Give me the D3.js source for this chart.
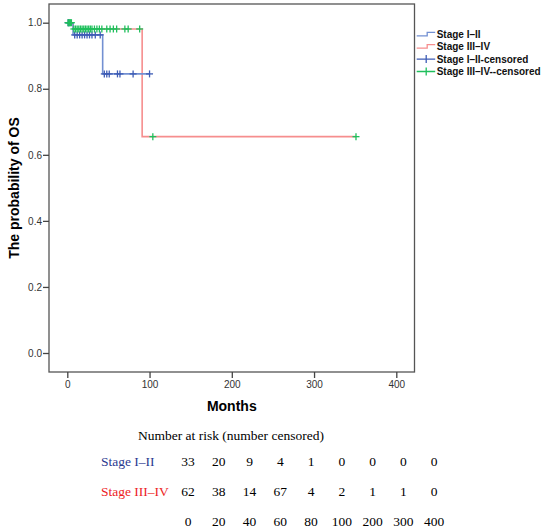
<!DOCTYPE html>
<html lang="en">
<head>
<meta charset="UTF-8">
<title>Overall survival by stage</title>
<script src="https://cdn.jsdelivr.net/npm/d3@7/dist/d3.min.js"></script>
<style>
  body { margin: 0; background: #fff; }
  svg text { font-family: "Liberation Sans", Arial, sans-serif; }
</style>
</head>
<body>
<div id="chart"></div>
<script>
// step curves: [month, survival]
const stage12Steps = [[0, 1.0], [7, 0.963], [43, 0.845], [100, 0.845]];
const stage34Steps = [[0, 1.0], [7, 0.981], [91, 0.655], [351, 0.655]];

// censored observations: [month, survival]
const stage12Censored = [
  [1, 1.0], [2, 1.0],
  [9, 0.963], [12, 0.963], [15, 0.963], [18, 0.963], [21, 0.963],
  [24, 0.963], [27, 0.963], [30, 0.963], [34, 0.963], [40, 0.963],
  [45, 0.845], [48, 0.845], [51, 0.845], [61, 0.845], [64, 0.845], [80, 0.845], [100, 0.845]
];
const stage34Censored = [
  [1, 1.0], [2, 1.0], [3, 1.0], [4, 1.0], [5, 1.0],
  [8, 0.981], [10, 0.981], [12, 0.981], [14, 0.981], [16, 0.981], [18, 0.981],
  [20, 0.981], [22, 0.981], [24, 0.981], [26, 0.981], [28, 0.981], [30, 0.981],
  [33, 0.981], [36, 0.981], [39, 0.981], [42, 0.981], [48, 0.981], [52, 0.981],
  [56, 0.981], [60, 0.981], [70, 0.981], [74, 0.981], [88, 0.981],
  [104, 0.655], [351, 0.655]
];

const xTicks = [0, 100, 200, 300, 400];
const yTicks = [0, 0.2, 0.4, 0.6, 0.8, 1.0];

const legendLabels = ["Stage I\u2013II", "Stage III\u2013IV", "Stage I\u2013II-censored", "Stage III\u2013IV--censored"];

// number at risk table
const riskTimes = ["0", "20", "40", "60", "80", "100", "200", "300", "400"];
const riskStage12 = [33, 20, 9, 4, 1, 0, 0, 0, 0];
const riskStage34 = [62, 38, 14, 67, 4, 2, 1, 1, 0];

const blueLine = "#7390d2", blueMark = "#3e5cb5";
const redLine = "#f68e8e", greenMark = "#1fbf5c";

const W = 550, H = 530;
const frame = {left: 49, right: 414.5, top: 4, bottom: 372};

const svg = d3.select("#chart").append("svg")
  .attr("width", W).attr("height", H);

const x = d3.scaleLinear().domain([0, 400]).range([67.3, 396.3]);
const y = d3.scaleLinear().domain([0, 1]).range([353, 22.7]);

// frame
svg.append("rect")
  .attr("x", frame.left).attr("y", frame.top)
  .attr("width", frame.right - frame.left).attr("height", frame.bottom - frame.top)
  .attr("fill", "none").attr("stroke", "#555").attr("stroke-width", 1.3);

// axes
const yAxis = svg.append("g")
  .attr("transform", "translate(" + frame.left + ",0)")
  .call(d3.axisLeft(y).tickValues(yTicks).tickFormat(d3.format(".1f")).tickSize(6).tickPadding(1));
const xAxis = svg.append("g")
  .attr("transform", "translate(0," + frame.bottom + ")")
  .call(d3.axisBottom(x).tickValues(xTicks).tickSize(6).tickPadding(3));
[xAxis, yAxis].forEach(function(g) {
  g.select(".domain").remove();
  g.selectAll(".tick line").attr("stroke", "#444").attr("stroke-width", 1.3);
  g.selectAll(".tick text").attr("fill", "#333").style("font-size", "10px")
    .style("font-family", "'Liberation Sans', Arial, sans-serif");
});

// axis titles
svg.append("text")
  .attr("x", x(200)).attr("y", 411)
  .attr("text-anchor", "middle")
  .style("font-size", "14px").style("font-weight", "bold")
  .text("Months");
svg.append("text")
  .attr("transform", "translate(18.5,188) rotate(-90)")
  .attr("text-anchor", "middle")
  .style("font-size", "14px").style("font-weight", "bold")
  .text("The probability of OS");

// survival curves
const stepLine = d3.line()
  .x(function(d) { return x(d[0]); })
  .y(function(d) { return y(d[1]); })
  .curve(d3.curveStepAfter);

svg.append("path").datum(stage34Steps)
  .attr("d", stepLine).attr("fill", "none")
  .attr("stroke", redLine).attr("stroke-width", 1.6);
svg.append("path").datum(stage12Steps)
  .attr("d", stepLine).attr("fill", "none")
  .attr("stroke", blueLine).attr("stroke-width", 1.6);

function drawCensored(data, color) {
  const g = svg.append("g").attr("stroke", color).attr("stroke-width", 1.3);
  data.forEach(function(d) {
    const cx = x(d[0]), cy = y(d[1]);
    g.append("line").attr("x1", cx - 3.5).attr("x2", cx + 3.5).attr("y1", cy).attr("y2", cy);
    g.append("line").attr("x1", cx).attr("x2", cx).attr("y1", cy - 3.5).attr("y2", cy + 3.5);
  });
}
drawCensored(stage12Censored, blueMark);
drawCensored(stage34Censored, greenMark);

// legend
const legend = svg.append("g").attr("transform", "translate(416.7,34.3)");
const legendColors = [blueLine, redLine, blueMark, greenMark];
legendLabels.forEach(function(label, i) {
  const row = legend.append("g").attr("transform", "translate(0," + (i * 12.4) + ")");
  if (i < 2) {
    row.append("path")
      .attr("d", "M0,1.5H10.5V-2H18.5")
      .attr("fill", "none").attr("stroke", legendColors[i]).attr("stroke-width", 1.3);
  } else {
    row.append("path")
      .attr("d", "M0,0H18.5M9.5,-4V4")
      .attr("fill", "none").attr("stroke", legendColors[i]).attr("stroke-width", 1.3);
  }
  row.append("text")
    .attr("x", 20).attr("y", 3.6)
    .style("font-size", "10px").style("font-weight", "bold")
    .attr("fill", "#111")
    .text(label);
});

// number at risk table
const serif = "'Liberation Serif', 'DejaVu Serif', serif";
const col = d3.scalePoint().domain(riskTimes).range([188, 434]);

svg.append("text")
  .attr("x", 138).attr("y", 439.5)
  .style("font-family", serif).style("font-size", "13.5px")
  .text("Number at risk (number censored)");

const rows = [
  {label: "Stage I\u2013II", color: "#2b3990", values: riskStage12, y: 466},
  {label: "Stage III\u2013IV", color: "#ed1c24", values: riskStage34, y: 496},
  {label: "", color: "#000", values: riskTimes, y: 526}
];
rows.forEach(function(r) {
  svg.append("text")
    .attr("x", 101).attr("y", r.y)
    .attr("fill", r.color)
    .style("font-family", serif).style("font-size", "13.5px")
    .text(r.label);
  svg.selectAll(null).data(r.values).enter().append("text")
    .attr("x", function(d, i) { return col(riskTimes[i]); })
    .attr("y", r.y)
    .attr("text-anchor", "middle")
    .style("font-family", serif).style("font-size", "13.5px")
    .text(function(d) { return d; });
});
</script>
</body>
</html>
